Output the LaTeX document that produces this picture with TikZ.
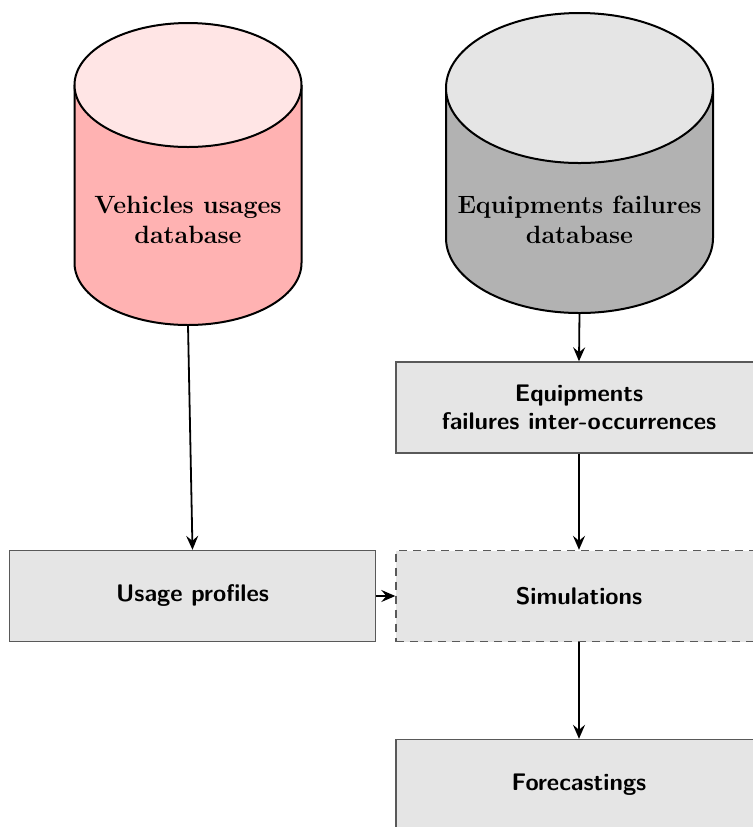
\documentclass[tikz,border=0pt]{standalone}
\usetikzlibrary{arrows.meta}
\begin{document}
\begin{tikzpicture}[x=0.5pt,y=-0.5pt,
  cyl/.style={line width=1pt, draw=black},
  dbtext/.style={font=\fontsize{12.5}{15}\selectfont\bfseries, align=center, text=black},
  procbox/.style={draw=black!65, line width=0.7pt, fill=gray!20, minimum width=183pt, minimum height=45.5pt, inner sep=0pt, align=center, font=\large\sffamily\bfseries},
  simbox/.style={procbox, dash pattern=on 4pt off 3pt},
  conn/.style={line width=0.9pt, -{Stealth[length=7pt,width=6pt,inset=2.5pt]}}]
\useasboundingbox (0,0) rectangle (753,827);
\clip (0,0) rectangle (753,827);
% left cylinder
\fill[red!30] (74.5,85) -- (74.5,263) arc[start angle=180,end angle=0,x radius=113.5,y radius=62] -- (301.5,85) -- cycle;
\draw[cyl] (74.5,85) -- (74.5,263) arc[start angle=180,end angle=0,x radius=113.5,y radius=62] -- (301.5,85);
\filldraw[cyl, fill=red!10] (188,85) ellipse[x radius=113.5,y radius=62];
\node[dbtext] (vdb) at (188,220) {Vehicles usages\\database};
\coordinate (vdbbot) at (188,325);
% right cylinder
\fill[gray!60] (446,88) -- (446,238) arc[start angle=180,end angle=0,x radius=133.5,y radius=75] -- (713,88) -- cycle;
\draw[cyl] (446,88) -- (446,238) arc[start angle=180,end angle=0,x radius=133.5,y radius=75] -- (713,88);
\filldraw[cyl, fill=gray!20] (579.5,88) ellipse[x radius=133.5,y radius=75];
\node[dbtext] (edb) at (579.5,220) {Equipments failures\\database};
\coordinate (edbbot) at (579.5,313);
% boxes
\node[procbox] (eq) at (579,407.5) {Equipments\\failures inter-occurrences};
\node[procbox] (usage) at (192.5,596) {Usage profiles};
\node[simbox] (sim) at (579,596) {Simulations};
\node[procbox] (fore) at (579,785) {Forecastings};
% connectors
\draw[conn] (vdbbot) -- (usage.north);
\draw[conn] (edbbot) -- (eq.north);
\draw[conn] (eq.south) -- (sim.north);
\draw[conn] (sim.south) -- (fore.north);
\draw[conn] (usage.east) -- (sim.west);
\end{tikzpicture}
\end{document}
